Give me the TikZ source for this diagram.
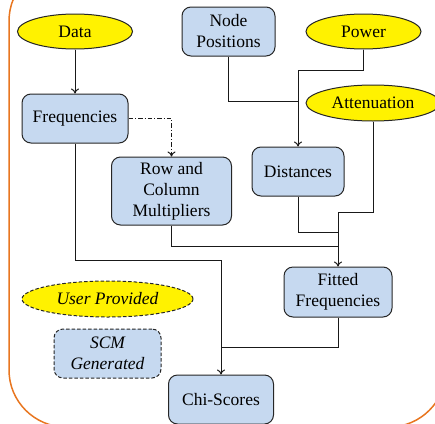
\documentclass[tikz,border=0pt]{standalone}
\usepackage{fontspec}
\setmainfont{Liberation Serif}
\usetikzlibrary{shapes.geometric,arrows.meta}
\definecolor{boxblue}{RGB}{198,217,240}
\definecolor{frameorange}{RGB}{232,118,32}
\begin{document}
\begin{tikzpicture}[x=1pt,y=-1pt,
  font=\fontsize{17.5}{21}\selectfont,
  process/.style={draw=black!85, fill=boxblue, rounded corners=9pt,
    line width=1pt, align=center, inner sep=0pt},
  source/.style={ellipse, draw=black!85, fill=yellow, line width=1pt,
    inner sep=0pt},
  legendline/.style={dash pattern=on 3.5pt off 2pt},
  dashdotline/.style={dash pattern=on 4.5pt off 2pt on 1pt off 2pt},
  link/.style={line width=1pt, black!90},
  flow/.style={link, -{To[length=5pt,width=8pt]}}]
\useasboundingbox (0,0) rectangle (435,423);

% surrounding frame
\begin{scope}
  \clip (0,0) rectangle (435,423);
  \draw[frameorange, line width=1.5pt, rounded corners=57pt]
    (9,-36) rectangle (446,427);
\end{scope}

% inputs
\node[source, minimum width=115pt, minimum height=35pt] (data) at (75,31.5) {Data};
\node[source, minimum width=115pt, minimum height=35pt] (power) at (363.5,31.5) {Power};
\node[source, minimum width=134pt, minimum height=36pt] (atten) at (373,103) {Attenuation};
\node[process, minimum width=93pt, minimum height=49pt] (npos) at (228.5,31.5) {Node\\Positions};

% computed quantities
\node[process, minimum width=106pt, minimum height=49pt] (freq) at (75,118.5) {Frequencies};
\node[process, minimum width=120pt, minimum height=68pt] (rcm) at (171.5,191) {Row and\\Column\\Multipliers};
\node[process, minimum width=92pt, minimum height=49pt] (dist) at (298,171.5) {Distances};
\node[process, minimum width=108pt, minimum height=50pt] (fitted) at (338,292) {Fitted\\Frequencies};
\node[process, minimum width=105pt, minimum height=49pt] (chi) at (221,399.5) {Chi-Scores};

% legend
\node[source, legendline, minimum width=171pt, minimum height=36pt, font=\fontsize{17.5}{21}\selectfont\itshape] (user) at (107.5,299) {User Provided};
\node[process, legendline, minimum width=107pt, minimum height=49pt, font=\fontsize{17.5}{21}\selectfont\itshape] (scm) at (107.5,353.5) {SCM\\Generated};

% junction points
\coordinate (jpow) at (298,70);
\coordinate (jpos) at (298,101);
\coordinate (jatt) at (338,212);
\coordinate (jdist) at (338,232);
\coordinate (jrcm) at (338,246);
\coordinate (jfreq) at (221,260);
\coordinate (jfit) at (221,347);

% connectors
\draw[flow] (data) -- (freq);
\draw[flow, dashdotline] (freq.east) -| (rcm.north);
\draw[link] (npos.south) |- (jpos);
\draw[flow] (power.south) |- (jpow) -- (dist.north);
\draw[flow] (atten.south) |- (jatt) -- (fitted.north);
\draw[link] (dist.south) |- (jdist);
\draw[link] (rcm.south) |- (jrcm);
\draw[flow] (freq.south) |- (jfreq) -- (chi.north);
\draw[link] (fitted.south) |- (jfit);
\end{tikzpicture}
\end{document}
